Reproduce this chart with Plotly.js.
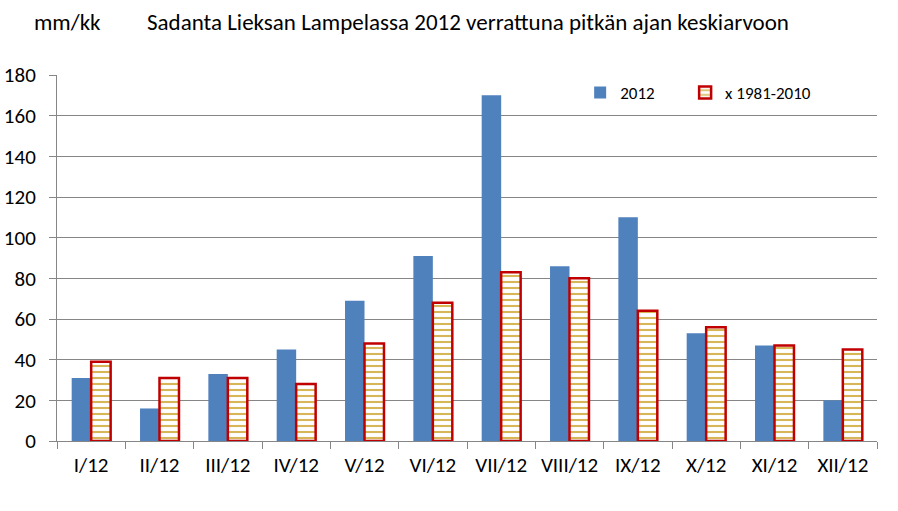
<!DOCTYPE html>
<html>
<head>
<meta charset="utf-8">
<script src="https://cdn.plot.ly/plotly-3.0.1.min.js"></script>
<style>html,body{margin:0;padding:0;background:#fff;}#chart{width:898px;height:511px;}</style>
</head>
<body>
<div id="chart"></div>
<script>
const months = ["I/12","II/12","III/12","IV/12","V/12","VI/12","VII/12","VIII/12","IX/12","X/12","XI/12","XII/12"];
const rain2012 = [31,16,33,45,69,91,170,86,110,53,47,20];
const avg19812010 = [39,31,31,28,48,68,83,80,64,56,47,45];
const yTicks = [0,20,40,60,80,100,120,140,160,180];

const FONT = "Carlito, Calibri, 'Open Sans', 'Noto Sans', sans-serif";

const traces = [
  {
    type: "bar", name: "2012", x: months, y: rain2012, legend: "legend",
    marker: {color: "#4f81bd", line: {width: 0}},
    hoverinfo: "x+y"
  },
  {
    type: "bar", name: "x 1981-2010", x: months, y: avg19812010, legend: "legend2",
    marker: {
      color: "#ffffff",
      line: {color: "#c00000", width: 2.5},
      pattern: {shape: "-", fgcolor: "#d6b656", bgcolor: "#ffffff", size: 6, solidity: 0.35}
    },
    hoverinfo: "x+y"
  }
];

const legendCommon = {
  orientation: "h", y: 1.0, xanchor: "left", yanchor: "top",
  font: {family: FONT, size: 17, color: "#000"},
  bgcolor: "rgba(0,0,0,0)", itemwidth: 30
};

const layout = {
  width: 898, height: 511,
  margin: {l: 57, r: 21, t: 75, b: 70},
  paper_bgcolor: "#ffffff", plot_bgcolor: "#ffffff",
  barmode: "group", bargap: 0.43, bargroupgap: 0,
  font: {family: FONT, size: 16, color: "#000"},
  showlegend: true,
  legend: Object.assign({}, legendCommon, {x: 0.638}),
  legend2: Object.assign({}, legendCommon, {x: 0.766}),
  xaxis: {
    type: "category", tickson: "boundaries", ticks: "outside", ticklen: 7,
    tickcolor: "#868686", showline: true, linecolor: "#868686", linewidth: 1,
    showgrid: false, tickfont: {family: FONT, size: 21, color: "#000"},
    ticklabelstandoff: 5, fixedrange: true
  },
  yaxis: {
    range: [0, 180], tickvals: yTicks, ticks: "outside", ticklen: 7,
    tickcolor: "#868686", showline: true, linecolor: "#868686", linewidth: 1,
    showgrid: true, gridcolor: "#868686", gridwidth: 1, zeroline: false,
    tickfont: {family: FONT, size: 21, color: "#000"}, ticklabelstandoff: 9,
    fixedrange: true
  },
  annotations: [
    {text: "mm/kk", xref: "paper", yref: "paper", x: -0.03, y: 1.0, xanchor: "left", yanchor: "bottom",
     yshift: 37, showarrow: false, font: {family: FONT, size: 23, color: "#000"}},
    {text: "Sadanta Lieksan Lampelassa 2012 verrattuna pitkän ajan keskiarvoon", xref: "paper", yref: "paper",
     x: 0.107, y: 1.0, xanchor: "left", yanchor: "bottom", yshift: 37, showarrow: false,
     font: {family: FONT, size: 23, color: "#000"}}
  ]
};

Plotly.newPlot("chart", traces, layout, {displayModeBar: false, staticPlot: true});
</script>
</body>
</html>
